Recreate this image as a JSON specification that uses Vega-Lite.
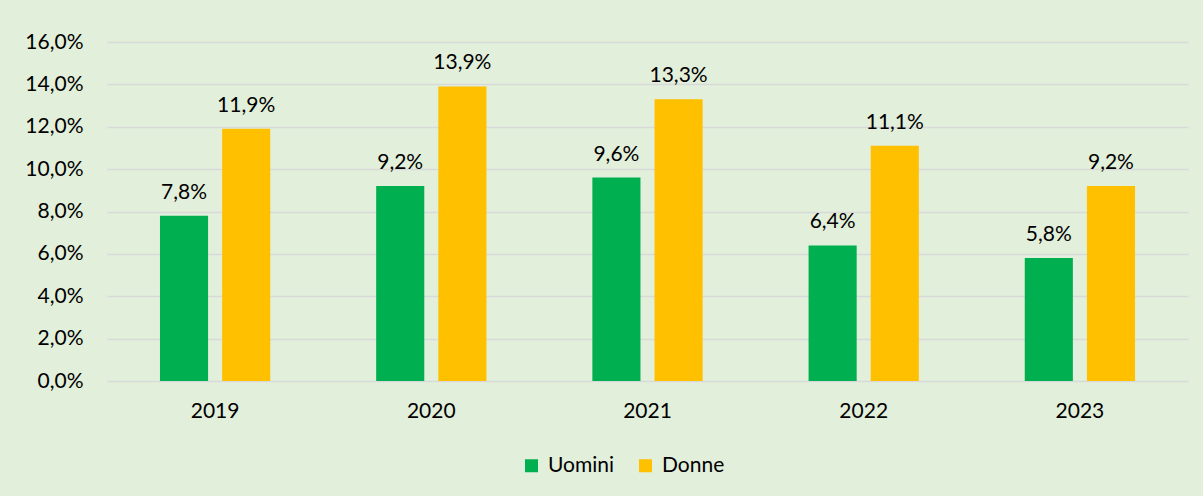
{
  "$schema": "https://vega.github.io/schema/vega-lite/v6.json",
  "autosize": "none",
  "width": 1081,
  "height": 339,
  "padding": {"left": 107, "top": 42, "right": 15, "bottom": 115},
  "background": "#E2EFDA",
  "data": {"values": [
    {"anno": "2019", "sesso": "Uomini", "v": 7.8},
    {"anno": "2019", "sesso": "Donne", "v": 11.9},
    {"anno": "2020", "sesso": "Uomini", "v": 9.2},
    {"anno": "2020", "sesso": "Donne", "v": 13.9},
    {"anno": "2021", "sesso": "Uomini", "v": 9.6},
    {"anno": "2021", "sesso": "Donne", "v": 13.3},
    {"anno": "2022", "sesso": "Uomini", "v": 6.4},
    {"anno": "2022", "sesso": "Donne", "v": 11.1},
    {"anno": "2023", "sesso": "Uomini", "v": 5.8},
    {"anno": "2023", "sesso": "Donne", "v": 9.2}
  ]},
  "transform": [
    {"calculate": "replace(format(datum.v, '.1f'), '.', ',') + '%'", "as": "label"}
  ],
  "encoding": {
    "x": {"field": "anno", "type": "nominal", "title": null,
      "scale": {"paddingInner": 0.49, "paddingOuter": 0.245},
      "axis": {"labelAngle": 0, "domain": false, "ticks": false, "labelPadding": 19, "labelFontSize": 21, "labelColor": "#000000", "labelFont": "Lato"}},
    "xOffset": {"field": "sesso", "type": "nominal", "sort": ["Uomini", "Donne"],
      "scale": {"paddingInner": 0.226, "paddingOuter": 0}},
    "y": {"field": "v", "type": "quantitative", "title": null,
      "scale": {"domain": [0, 16]},
      "axis": {"values": [0, 2, 4, 6, 8, 10, 12, 14, 16], "labelExpr": "replace(format(datum.value, '.1f'), '.', ',') + '%'",
        "domain": false, "ticks": false, "labelPadding": 24, "labelFontSize": 21, "labelColor": "#000000", "labelFont": "Lato",
        "gridColor": "#D9D9D9", "gridWidth": 1.5}}
  },
  "layer": [
    {"mark": {"type": "bar"},
     "encoding": {
       "color": {"field": "sesso", "type": "nominal", "sort": ["Uomini", "Donne"], "title": null,
         "scale": {"domain": ["Uomini", "Donne"], "range": ["#00B050", "#FFC000"]},
         "legend": {"orient": "none", "legendX": 414, "legendY": 413, "direction": "horizontal", "symbolType": "square", "symbolSize": 169,
           "symbolStrokeWidth": 0, "labelFontSize": 21, "labelFont": "Lato", "labelColor": "#000000", "labelOffset": 6, "columnPadding": 20, "symbolOffset": 0}}
     }},
    {"mark": {"type": "text", "baseline": "bottom", "dy": -13, "fontSize": 21, "font": "Lato", "color": "#000000"},
     "encoding": {"text": {"field": "label"}}}
  ],
  "config": {"view": {"stroke": null}}
}
